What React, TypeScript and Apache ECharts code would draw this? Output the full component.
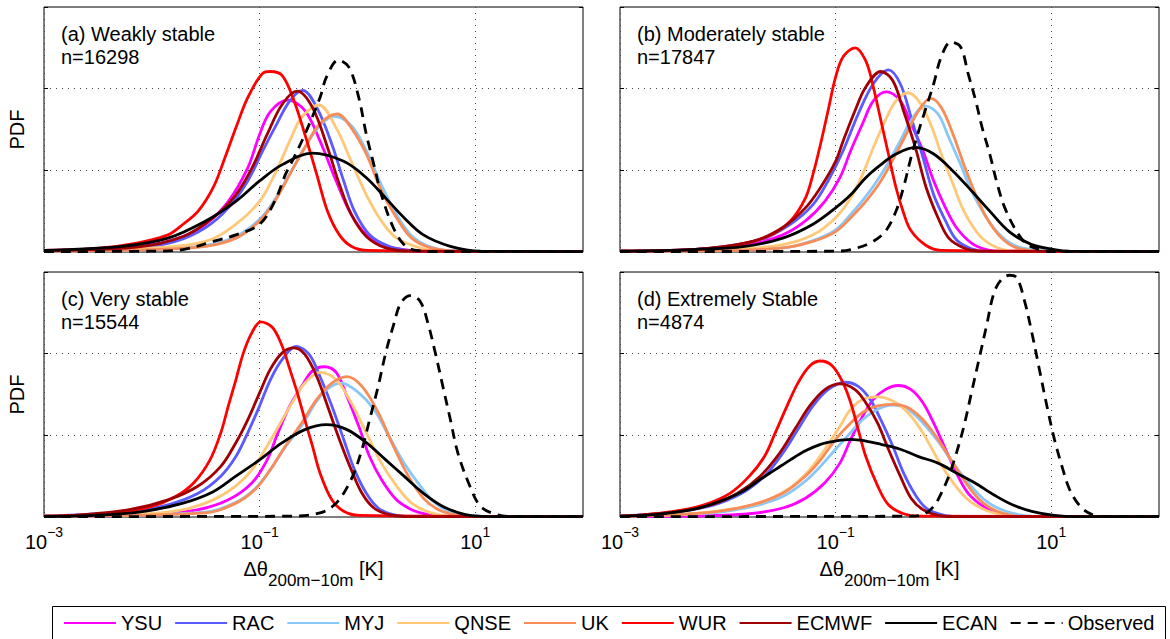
import React, { useEffect, useRef } from 'react';
import * as echarts from 'echarts';

const FONT = '"Liberation Sans", Arial, Helvetica, sans-serif';

const MODELS = ['YSU', 'RAC', 'MYJ', 'QNSE', 'UK', 'WUR', 'ECMWF', 'ECAN', 'Observed'];
const COLORS = ['#ff00ff', '#5a5aff', '#88c8f8', '#ffc878', '#f88c58', '#ff0000', '#a00000', '#000000', '#000000'];
const PANEL_TITLES = ['(a) Weakly stable', '(b) Moderately stable', '(c) Very stable', '(d) Extremely Stable'];
const PANEL_COUNTS = ['n=16298', 'n=17847', 'n=15544', 'n=4874'];
const X_LABEL_EXPONENTS = [-3, -1, 1];
const X_MIN = 0.001;
const X_MAX = 100;
const Y_MAX = 3;

// Each point: [log10(Δθ / K), PDF]
// (a) Weakly stable
const YSU_A = [[-3, 0.02], [-2.35, 0.04], [-2, 0.09], [-1.71, 0.19], [-1.5, 0.34], [-1.29, 0.62], [-1.11, 1.03], [-1, 1.44], [-0.9, 1.72], [-0.74, 1.86], [-0.58, 1.73], [-0.44, 1.36], [-0.29, 0.87], [-0.15, 0.46], [-0.01, 0.21], [0.13, 0.09], [0.34, 0.03], [0.49, 0.01], [2, 0.005]];
const RAC_A = [[-3, 0.02], [-2.14, 0.05], [-1.78, 0.13], [-1.5, 0.3], [-1.29, 0.54], [-1.11, 0.87], [-0.97, 1.24], [-0.86, 1.52], [-0.72, 1.85], [-0.6, 1.98], [-0.47, 1.77], [-0.33, 1.32], [-0.22, 0.87], [-0.12, 0.5], [0.02, 0.21], [0.2, 0.07], [0.41, 0.02], [2, 0.005]];
const MYJ_A = [[-3, 0.01], [-2, 0.03], [-1.5, 0.08], [-1.22, 0.19], [-1, 0.4], [-0.86, 0.64], [-0.72, 0.96], [-0.58, 1.28], [-0.44, 1.55], [-0.31, 1.66], [-0.15, 1.55], [-0.01, 1.24], [0.13, 0.82], [0.27, 0.46], [0.41, 0.2], [0.59, 0.06], [0.84, 0.01], [2, 0.005]];
const QNSE_A = [[-3, 0.02], [-2, 0.05], [-1.5, 0.13], [-1.22, 0.34], [-1, 0.62], [-0.86, 0.95], [-0.72, 1.36], [-0.61, 1.65], [-0.45, 1.8], [-0.29, 1.52], [-0.15, 1.11], [-0.01, 0.7], [0.13, 0.38], [0.27, 0.17], [0.49, 0.05], [0.66, 0.01], [2, 0.005]];
const UK_A = [[-3, 0.01], [-2, 0.03], [-1.5, 0.07], [-1.22, 0.17], [-1, 0.38], [-0.86, 0.62], [-0.72, 0.95], [-0.58, 1.28], [-0.44, 1.57], [-0.28, 1.69], [-0.15, 1.52], [-0.01, 1.2], [0.13, 0.75], [0.27, 0.42], [0.41, 0.17], [0.59, 0.05], [0.84, 0.01], [2, 0.005]];
const WUR_A = [[-3, 0.02], [-2.53, 0.04], [-2.14, 0.11], [-1.85, 0.21], [-1.71, 0.34], [-1.57, 0.5], [-1.43, 0.79], [-1.32, 1.16], [-1.22, 1.52], [-1.11, 1.89], [-0.97, 2.19], [-0.9, 2.21], [-0.79, 2.16], [-0.68, 1.85], [-0.58, 1.44], [-0.47, 0.95], [-0.37, 0.5], [-0.26, 0.21], [-0.15, 0.07], [-0.01, 0.02], [2, 0.005]];
const ECMWF_A = [[-3, 0.02], [-2.14, 0.06], [-1.71, 0.19], [-1.43, 0.42], [-1.22, 0.7], [-1.07, 1.03], [-0.93, 1.44], [-0.79, 1.81], [-0.65, 1.97], [-0.51, 1.77], [-0.37, 1.28], [-0.26, 0.83], [-0.15, 0.46], [-0.01, 0.19], [0.17, 0.05], [0.41, 0.01], [2, 0.005]];
const ECAN_A = [[-3, 0.02], [-2.28, 0.07], [-1.85, 0.17], [-1.5, 0.38], [-1.22, 0.62], [-1, 0.87], [-0.79, 1.07], [-0.51, 1.21], [-0.22, 1.11], [-0.01, 0.91], [0.17, 0.66], [0.34, 0.42], [0.52, 0.21], [0.77, 0.07], [1.05, 0.01], [2, 0.005]];
const OBS_A = [[-3, 0.005], [-2, 0.01], [-1.71, 0.03], [-1.43, 0.13], [-1.22, 0.21], [-1, 0.34], [-0.86, 0.62], [-0.76, 0.95], [-0.68, 1.16], [-0.58, 1.44], [-0.44, 1.89], [-0.38, 2.14], [-0.27, 2.35], [-0.17, 2.26], [-0.08, 1.89], [-0.01, 1.44], [0.06, 1.07], [0.13, 0.7], [0.24, 0.3], [0.34, 0.09], [0.45, 0.02], [0.66, 0.005], [2, 0.005]];

// (b) Moderately stable
const YSU_B = [[-3, 0.01], [-2.33, 0.03], [-1.8, 0.09], [-1.49, 0.21], [-1.28, 0.38], [-1.1, 0.62], [-0.96, 0.91], [-0.86, 1.24], [-0.75, 1.57], [-0.65, 1.85], [-0.53, 1.96], [-0.4, 1.85], [-0.3, 1.57], [-0.19, 1.24], [-0.09, 0.87], [0.02, 0.54], [0.12, 0.3], [0.26, 0.11], [0.4, 0.03], [0.54, 0.01], [2, 0.005]];
const RAC_B = [[-3, 0.01], [-2.33, 0.03], [-1.7, 0.15], [-1.42, 0.34], [-1.21, 0.58], [-1.07, 0.87], [-0.93, 1.24], [-0.79, 1.69], [-0.65, 2.06], [-0.51, 2.23], [-0.4, 2.06], [-0.3, 1.65], [-0.19, 1.16], [-0.09, 0.7], [0.02, 0.38], [0.12, 0.15], [0.26, 0.04], [0.4, 0.01], [2, 0.005]];
const MYJ_B = [[-3, 0.01], [-1.49, 0.05], [-1.21, 0.14], [-1, 0.27], [-0.86, 0.46], [-0.68, 0.75], [-0.54, 1.03], [-0.4, 1.36], [-0.3, 1.61], [-0.17, 1.79], [-0.05, 1.69], [0.05, 1.4], [0.16, 1.07], [0.26, 0.75], [0.4, 0.42], [0.54, 0.19], [0.68, 0.07], [0.89, 0.02], [1.03, 0.01], [2, 0.005]];
const QNSE_B = [[-3, 0.01], [-1.98, 0.03], [-1.49, 0.09], [-1.21, 0.21], [-1, 0.42], [-0.86, 0.66], [-0.75, 0.95], [-0.65, 1.28], [-0.54, 1.61], [-0.44, 1.85], [-0.33, 1.95], [-0.23, 1.85], [-0.12, 1.57], [-0.02, 1.2], [0.09, 0.83], [0.19, 0.5], [0.33, 0.21], [0.47, 0.07], [0.65, 0.01], [2, 0.005]];
const UK_B = [[-3, 0.01], [-1.98, 0.02], [-1.49, 0.05], [-1.21, 0.13], [-1, 0.25], [-0.86, 0.42], [-0.72, 0.62], [-0.58, 0.87], [-0.44, 1.2], [-0.33, 1.48], [-0.23, 1.73], [-0.12, 1.88], [-0.02, 1.77], [0.09, 1.44], [0.19, 1.07], [0.3, 0.7], [0.4, 0.42], [0.54, 0.17], [0.68, 0.05], [0.89, 0.01], [2, 0.005]];
const WUR_B = [[-3, 0.01], [-2.33, 0.03], [-1.98, 0.07], [-1.63, 0.19], [-1.42, 0.38], [-1.28, 0.66], [-1.21, 0.95], [-1.14, 1.32], [-1.07, 1.73], [-1, 2.14], [-0.93, 2.39], [-0.82, 2.5], [-0.72, 2.34], [-0.65, 2.02], [-0.58, 1.61], [-0.51, 1.2], [-0.44, 0.79], [-0.37, 0.48], [-0.3, 0.26], [-0.16, 0.08], [-0.02, 0.02], [2, 0.005]];
const ECMWF_B = [[-3, 0.01], [-2.33, 0.03], [-1.77, 0.13], [-1.49, 0.3], [-1.28, 0.54], [-1.14, 0.79], [-1, 1.11], [-0.93, 1.36], [-0.82, 1.73], [-0.72, 2.02], [-0.58, 2.21], [-0.47, 2.1], [-0.37, 1.73], [-0.26, 1.28], [-0.16, 0.79], [-0.05, 0.42], [0.05, 0.17], [0.19, 0.05], [0.33, 0.01], [2, 0.005]];
const ECAN_B = [[-3, 0.01], [-2.33, 0.03], [-1.84, 0.07], [-1.49, 0.17], [-1.21, 0.34], [-1, 0.54], [-0.86, 0.7], [-0.72, 0.91], [-0.58, 1.07], [-0.44, 1.2], [-0.26, 1.28], [-0.09, 1.2], [0.09, 0.99], [0.26, 0.75], [0.43, 0.5], [0.61, 0.25], [0.82, 0.09], [1.03, 0.03], [1.17, 0.01], [2, 0.005]];
const OBS_B = [[-3, 0.005], [-1, 0.01], [-0.86, 0.03], [-0.68, 0.11], [-0.54, 0.25], [-0.44, 0.5], [-0.37, 0.79], [-0.3, 1.16], [-0.23, 1.48], [-0.16, 1.77], [-0.09, 2.06], [-0.02, 2.39], [0.07, 2.57], [0.16, 2.51], [0.23, 2.18], [0.3, 1.85], [0.36, 1.52], [0.43, 1.2], [0.5, 0.83], [0.57, 0.54], [0.68, 0.25], [0.78, 0.09], [0.92, 0.02], [1.03, 0.005], [2, 0.005]];

// (c) Very stable
const YSU_C = [[-3, 0.01], [-2, 0.03], [-1.57, 0.09], [-1.29, 0.21], [-1.07, 0.42], [-0.93, 0.7], [-0.83, 1.03], [-0.72, 1.36], [-0.61, 1.6], [-0.51, 1.79], [-0.4, 1.84], [-0.29, 1.77], [-0.19, 1.48], [-0.08, 1.11], [0.02, 0.74], [0.13, 0.46], [0.27, 0.21], [0.41, 0.09], [0.56, 0.03], [0.7, 0.005], [2, 0.005]];
const RAC_C = [[-3, 0.01], [-2.21, 0.07], [-1.85, 0.15], [-1.57, 0.29], [-1.36, 0.5], [-1.22, 0.74], [-1.11, 1.03], [-1, 1.36], [-0.9, 1.68], [-0.79, 1.93], [-0.66, 2.09], [-0.54, 1.99], [-0.44, 1.72], [-0.33, 1.36], [-0.22, 0.95], [-0.12, 0.58], [-0.01, 0.29], [0.1, 0.11], [0.24, 0.03], [0.45, 0.005], [2, 0.005]];
const MYJ_C = [[-3, 0.01], [-1.5, 0.06], [-1.22, 0.18], [-1.04, 0.35], [-0.9, 0.58], [-0.76, 0.86], [-0.61, 1.12], [-0.47, 1.42], [-0.37, 1.57], [-0.24, 1.64], [-0.08, 1.52], [0.06, 1.32], [0.2, 0.99], [0.34, 0.66], [0.49, 0.38], [0.63, 0.17], [0.8, 0.05], [1.02, 0.01], [2, 0.005]];
const QNSE_C = [[-3, 0.01], [-2.14, 0.03], [-1.71, 0.09], [-1.43, 0.21], [-1.22, 0.38], [-1.07, 0.58], [-0.93, 0.87], [-0.79, 1.19], [-0.68, 1.44], [-0.58, 1.64], [-0.44, 1.77], [-0.29, 1.68], [-0.15, 1.4], [-0.01, 1.03], [0.13, 0.66], [0.27, 0.38], [0.41, 0.17], [0.59, 0.05], [0.77, 0.01], [2, 0.005]];
const UK_C = [[-3, 0.01], [-1.5, 0.05], [-1.22, 0.17], [-1.04, 0.34], [-0.9, 0.58], [-0.76, 0.87], [-0.61, 1.15], [-0.47, 1.44], [-0.33, 1.64], [-0.19, 1.72], [-0.05, 1.6], [0.1, 1.28], [0.24, 0.87], [0.38, 0.5], [0.52, 0.23], [0.66, 0.09], [0.84, 0.02], [1.02, 0.005], [2, 0.005]];
const WUR_C = [[-3, 0.01], [-2.71, 0.02], [-2.35, 0.05], [-2, 0.13], [-1.78, 0.25], [-1.61, 0.42], [-1.46, 0.7], [-1.36, 1.03], [-1.29, 1.36], [-1.22, 1.68], [-1.15, 2.01], [-1.07, 2.26], [-0.99, 2.39], [-0.88, 2.32], [-0.79, 2.09], [-0.72, 1.81], [-0.65, 1.52], [-0.58, 1.19], [-0.51, 0.87], [-0.44, 0.54], [-0.33, 0.21], [-0.22, 0.07], [-0.08, 0.02], [2, 0.005]];
const ECMWF_C = [[-3, 0.01], [-2.71, 0.02], [-2.21, 0.09], [-1.85, 0.21], [-1.57, 0.38], [-1.36, 0.62], [-1.22, 0.91], [-1.11, 1.19], [-1, 1.52], [-0.9, 1.81], [-0.79, 2.01], [-0.68, 2.07], [-0.58, 1.99], [-0.47, 1.72], [-0.37, 1.36], [-0.26, 0.95], [-0.15, 0.58], [-0.05, 0.29], [0.06, 0.11], [0.2, 0.03], [0.41, 0.005], [2, 0.005]];
const ECAN_C = [[-3, 0.005], [-2.53, 0.02], [-2.07, 0.07], [-1.71, 0.17], [-1.43, 0.31], [-1.22, 0.5], [-1, 0.7], [-0.79, 0.91], [-0.58, 1.07], [-0.38, 1.13], [-0.19, 1.07], [-0.01, 0.91], [0.17, 0.7], [0.34, 0.5], [0.52, 0.29], [0.7, 0.13], [0.91, 0.03], [1.2, 0.005], [2, 0.005]];
const OBS_C = [[-3, 0.005], [-0.72, 0.01], [-0.44, 0.05], [-0.29, 0.17], [-0.15, 0.46], [-0.05, 0.83], [0.02, 1.19], [0.1, 1.6], [0.17, 2.01], [0.24, 2.34], [0.31, 2.62], [0.4, 2.71], [0.49, 2.64], [0.56, 2.38], [0.63, 2.01], [0.7, 1.6], [0.77, 1.19], [0.84, 0.78], [0.95, 0.38], [1.05, 0.13], [1.2, 0.03], [1.37, 0.005], [2, 0.005]];

// (d) Extremely stable
const YSU_D = [[-3, 0.005], [-2.33, 0.01], [-1.8, 0.04], [-1.49, 0.11], [-1.28, 0.23], [-1.1, 0.42], [-0.96, 0.66], [-0.86, 0.95], [-0.75, 1.23], [-0.65, 1.44], [-0.54, 1.56], [-0.42, 1.61], [-0.3, 1.56], [-0.19, 1.4], [-0.09, 1.15], [0.02, 0.83], [0.12, 0.54], [0.23, 0.29], [0.37, 0.13], [0.51, 0.04], [0.68, 0.005], [2, 0.005]];
const RAC_D = [[-3, 0.01], [-2.5, 0.06], [-2.15, 0.14], [-1.87, 0.29], [-1.66, 0.5], [-1.49, 0.78], [-1.35, 1.07], [-1.21, 1.36], [-1.07, 1.56], [-0.91, 1.65], [-0.79, 1.6], [-0.68, 1.44], [-0.58, 1.19], [-0.47, 0.87], [-0.37, 0.54], [-0.26, 0.27], [-0.16, 0.11], [-0.02, 0.03], [0.16, 0.005], [2, 0.005]];
const MYJ_D = [[-3, 0.01], [-2.15, 0.05], [-1.77, 0.13], [-1.49, 0.25], [-1.28, 0.44], [-1.14, 0.62], [-1, 0.83], [-0.89, 0.99], [-0.75, 1.19], [-0.61, 1.32], [-0.47, 1.37], [-0.33, 1.32], [-0.19, 1.15], [-0.05, 0.93], [0.09, 0.66], [0.23, 0.42], [0.4, 0.19], [0.58, 0.07], [0.82, 0.01], [2, 0.005]];
const QNSE_D = [[-3, 0.01], [-2.33, 0.04], [-1.91, 0.11], [-1.63, 0.21], [-1.42, 0.36], [-1.24, 0.58], [-1.1, 0.83], [-0.96, 1.11], [-0.86, 1.32], [-0.75, 1.44], [-0.61, 1.47], [-0.47, 1.42], [-0.33, 1.28], [-0.19, 1.03], [-0.05, 0.7], [0.09, 0.42], [0.23, 0.21], [0.4, 0.08], [0.58, 0.02], [0.75, 0.005], [2, 0.005]];
const UK_D = [[-3, 0.01], [-2.68, 0.02], [-2.15, 0.06], [-1.77, 0.15], [-1.49, 0.29], [-1.28, 0.5], [-1.14, 0.7], [-1, 0.95], [-0.89, 1.11], [-0.75, 1.28], [-0.61, 1.36], [-0.47, 1.38], [-0.33, 1.34], [-0.19, 1.19], [-0.05, 0.95], [0.09, 0.66], [0.23, 0.38], [0.37, 0.17], [0.54, 0.05], [0.75, 0.005], [2, 0.005]];
const WUR_D = [[-3, 0.01], [-2.85, 0.02], [-2.5, 0.07], [-2.22, 0.15], [-1.98, 0.29], [-1.8, 0.5], [-1.66, 0.74], [-1.56, 1.03], [-1.45, 1.36], [-1.35, 1.64], [-1.24, 1.85], [-1.14, 1.91], [-1.03, 1.85], [-0.93, 1.64], [-0.86, 1.4], [-0.79, 1.07], [-0.72, 0.74], [-0.61, 0.38], [-0.51, 0.15], [-0.37, 0.04], [-0.23, 0.01], [2, 0.005]];
const ECMWF_D = [[-3, 0.01], [-2.5, 0.06], [-2.15, 0.15], [-1.91, 0.29], [-1.7, 0.5], [-1.52, 0.78], [-1.38, 1.07], [-1.24, 1.36], [-1.1, 1.56], [-0.96, 1.63], [-0.82, 1.56], [-0.72, 1.4], [-0.61, 1.15], [-0.51, 0.83], [-0.4, 0.5], [-0.3, 0.23], [-0.19, 0.09], [-0.05, 0.02], [0.12, 0.005], [2, 0.005]];
const ECAN_D = [[-3, 0.01], [-2.68, 0.03], [-2.33, 0.09], [-2.08, 0.19], [-1.87, 0.31], [-1.7, 0.46], [-1.56, 0.58], [-1.42, 0.7], [-1.28, 0.81], [-1.14, 0.89], [-1, 0.93], [-0.86, 0.95], [-0.72, 0.93], [-0.58, 0.89], [-0.4, 0.83], [-0.23, 0.74], [-0.05, 0.66], [0.12, 0.54], [0.29, 0.42], [0.47, 0.27], [0.64, 0.15], [0.82, 0.07], [1.03, 0.02], [1.24, 0.005], [2, 0.005]];
const OBS_D = [[-3, 0.005], [-0.33, 0.01], [-0.19, 0.03], [-0.09, 0.13], [-0.02, 0.29], [0.05, 0.5], [0.12, 0.78], [0.19, 1.11], [0.26, 1.52], [0.33, 1.93], [0.4, 2.34], [0.47, 2.75], [0.54, 2.91], [0.61, 2.96], [0.68, 2.93], [0.75, 2.66], [0.82, 2.26], [0.89, 1.81], [0.96, 1.36], [1.03, 0.95], [1.1, 0.62], [1.17, 0.34], [1.27, 0.13], [1.38, 0.03], [1.52, 0.005], [2, 0.005]];

const PANEL_DATA = [
  [YSU_A, RAC_A, MYJ_A, QNSE_A, UK_A, WUR_A, ECMWF_A, ECAN_A, OBS_A],
  [YSU_B, RAC_B, MYJ_B, QNSE_B, UK_B, WUR_B, ECMWF_B, ECAN_B, OBS_B],
  [YSU_C, RAC_C, MYJ_C, QNSE_C, UK_C, WUR_C, ECMWF_C, ECAN_C, OBS_C],
  [YSU_D, RAC_D, MYJ_D, QNSE_D, UK_D, WUR_D, ECMWF_D, ECAN_D, OBS_D],
];

const GRIDS = [
  { left: 44, top: 7, width: 539, height: 245 },
  { left: 620, top: 7, width: 539, height: 245 },
  { left: 44, top: 272, width: 539, height: 245 },
  { left: 620, top: 272, width: 539, height: 245 },
];

function buildOption() {
  const grid = GRIDS.map((g) => ({
    ...g,
    show: true,
    borderColor: '#000',
    borderWidth: 1,
    backgroundColor: '#fff',
    containLabel: false,
  }));

  const xAxis = GRIDS.map((_, i) => ({
    type: 'log',
    logBase: 10,
    gridIndex: i,
    min: X_MIN,
    max: X_MAX,
    axisLine: { show: false },
    axisTick: { show: false },
    axisLabel: {
      show: i >= 2,
      margin: 15,
      hideOverlap: false,
      showMinLabel: true,
      showMaxLabel: true,
      formatter: (v: number) => {
        const e = Math.round(Math.log10(v));
        if (X_LABEL_EXPONENTS.indexOf(e) < 0) return '';
        return `{b|10}{s|${e < 0 ? '\u2212' : ''}${Math.abs(e)}}`;
      },
      rich: {
        b: { fontSize: 20, lineHeight: 20, verticalAlign: 'bottom', fontFamily: FONT, color: '#000' },
        s: { fontSize: 14, lineHeight: 14, verticalAlign: 'bottom', padding: [0, 0, 13, 0], fontFamily: FONT, color: '#000' },
      },
    },
    splitLine: {
      show: true,
      lineStyle: { color: ['#444', 'rgba(0,0,0,0)'], type: [1, 5], width: 1 },
    },
  }));

  const yAxisLeft = GRIDS.map((_, i) => ({
    type: 'value',
    gridIndex: i,
    position: 'left',
    min: 0,
    max: Y_MAX,
    interval: 1,
    axisLine: { show: false },
    axisTick: { show: true, inside: true, length: 4, lineStyle: { color: '#000' } },
    axisLabel: { show: false },
    splitLine: {
      show: true,
      showMinLine: false,
      showMaxLine: false,
      lineStyle: { color: '#444', type: [1, 5], width: 1 },
    },
  }));
  const yAxisRight = GRIDS.map((_, i) => ({
    type: 'value',
    gridIndex: i,
    position: 'right',
    min: 0,
    max: Y_MAX,
    interval: 1,
    axisLine: { show: false },
    axisTick: { show: true, inside: true, length: 4, lineStyle: { color: '#000' } },
    axisLabel: { show: false },
    splitLine: { show: false },
  }));

  const series: any[] = [];
  PANEL_DATA.forEach((panel, p) => {
    panel.forEach((pts, m) => {
      series.push({
        type: 'line',
        name: MODELS[m],
        xAxisIndex: p,
        yAxisIndex: p,
        data: pts.map(([l, v]) => [Math.pow(10, l), v]),
        symbol: 'none',
        showSymbol: false,
        smooth: 0.35,
        silent: true,
        z: 2 + m,
        lineStyle: { color: COLORS[m], width: 2.8, type: m === 8 ? [10, 7] : 'solid' },
        itemStyle: { color: COLORS[m] },
      });
    });
  });

  const graphic: any[] = [
    {
      type: 'rect',
      shape: { x: 52.5, y: 606.5, width: 1113, height: 60 },
      style: { fill: 'none', stroke: '#000', lineWidth: 1 },
      silent: true,
    },
  ];
  GRIDS.forEach((g, i) => {
    const x = g.left + 17;
    const y1 = g.top + 26.5;
    const y2 = g.top + 50;
    graphic.push({
      type: 'text',
      x,
      y: y1,
      silent: true,
      style: { text: PANEL_TITLES[i], fontSize: 20, fontFamily: FONT, fill: '#000', align: 'left', verticalAlign: 'middle' },
    });
    graphic.push({
      type: 'text',
      x,
      y: y2,
      silent: true,
      style: { text: PANEL_COUNTS[i], fontSize: 20, fontFamily: FONT, fill: '#000', align: 'left', verticalAlign: 'middle' },
    });
    if (i % 2 === 0) {
      graphic.push({
        type: 'text',
        x: 17,
        y: g.top + g.height / 2,
        rotation: Math.PI / 2,
        silent: true,
        style: { text: 'PDF', fontSize: 20, fontFamily: FONT, fill: '#000', align: 'center', verticalAlign: 'middle' },
      });
    }
    if (i >= 2) {
      graphic.push({
        type: 'text',
        x: g.left + g.width / 2,
        y: 558.5,
        silent: true,
        style: {
          text: '{m|\u0394\u03b8}{s|200m\u221210m}{m| [K]}',
          align: 'center',
          verticalAlign: 'top',
          fill: '#000',
          fontFamily: FONT,
          fontSize: 20,
          rich: {
            m: { fontSize: 20, lineHeight: 20, verticalAlign: 'top', fontFamily: FONT, fill: '#000' },
            s: { fontSize: 17, lineHeight: 17, verticalAlign: 'top', padding: [13.5, 0, 0, 0], fontFamily: FONT, fill: '#000' },
          },
        },
      });
    }
  });

  return {
    animation: false,
    backgroundColor: '#fff',
    textStyle: { fontFamily: FONT },
    grid,
    xAxis,
    yAxis: [...yAxisLeft, ...yAxisRight],
    legend: {
      data: MODELS,
      left: 63,
      top: 613,
      padding: 0,
      itemWidth: 52,
      itemHeight: 14,
      itemGap: 12,
      selectedMode: false,
      itemStyle: { opacity: 0 },
      textStyle: { fontSize: 20, lineHeight: 20, fontFamily: FONT, color: '#000' },
    },
    graphic,
    series,
  };
}

export default function App() {
  const ref = useRef<HTMLDivElement>(null);
  useEffect(() => {
    if (!ref.current) return;
    const chart = echarts.init(ref.current, undefined, { renderer: 'svg' });
    chart.setOption(buildOption() as any);
    return () => chart.dispose();
  }, []);
  return (
    <div
      ref={ref}
      style={{ position: 'absolute', left: 0, top: 0, width: 1170, height: 639, background: '#fff' }}
    />
  );
}
